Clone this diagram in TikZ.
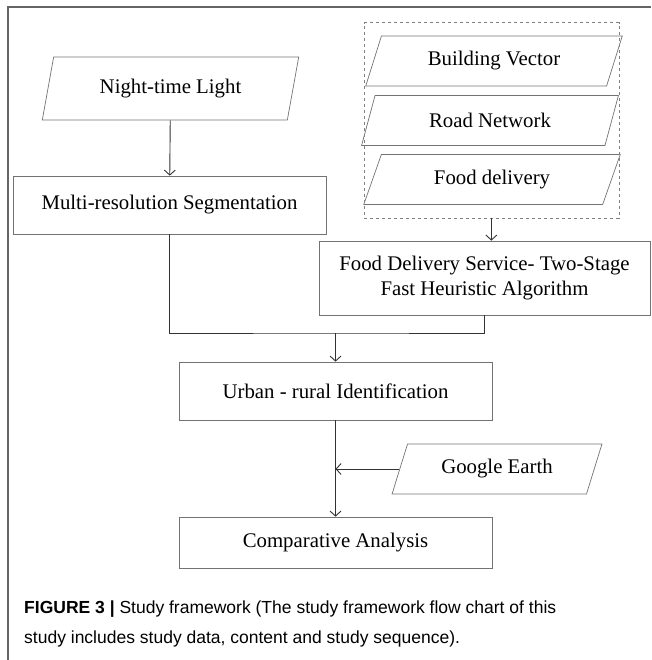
\documentclass[tikz,border=0pt]{standalone}
\usepackage{fontspec}
\setmainfont{Liberation Serif}
\setsansfont{Liberation Sans}
\usetikzlibrary{arrows.meta,shapes.geometric,fit}
\tikzset{
  sfbox/.style={draw=black!55, line width=0.7pt, align=center, inner sep=0pt,
    font=\fontsize{20.8}{25}\selectfont},
  sfdata/.style={sfbox, trapezium, trapezium stretches=true, trapezium left angle=64,
    trapezium right angle=116, minimum width=257pt, minimum height=50pt},
  sfgroup/.style={draw=black!50, dashed, line width=0.6pt, inner xsep=4pt, inner ysep=13pt},
  sfarrow/.style={-{Straight Barb[length=5pt,width=11pt]}, line width=0.9pt, draw=black!80},
  sfline/.style={line width=0.9pt, draw=black!80}
}
\begin{document}
\begin{tikzpicture}[x=1pt,y=-1pt]
  \useasboundingbox (0,0) rectangle (651,660);
  % frame of the figure
  \draw[black!60, line width=1.2pt] (8,660) -- (8,7) -- (651,7);
  % inputs
  \node[sfdata, trapezium left angle=70, trapezium right angle=110, minimum height=63pt] (ntl) at (170.5,88.5) {Night-time Light};
  \node[sfdata] (bv) at (494,61) {Building Vector};
  \node[sfdata] (rn) at (490,120.5) {Road Network};
  \node[sfdata] (fd) at (492,179.5) {Food delivery};
  \node[sfgroup, fit=(bv)(rn)(fd)] (grp) {};
  % processing
  \node[sfbox, minimum width=313pt, minimum height=58pt] (mrs) at (169.5,205) {Multi-resolution Segmentation};
  \node[sfbox, minimum width=331pt, minimum height=74pt] (fds) at (484.5,278) {Food Delivery Service- Two-Stage\\Fast Heuristic Algorithm};
  \node[sfbox, minimum width=313pt, minimum height=58pt] (uri) at (335.5,391) {Urban - rural Identification};
  \node[sfdata, minimum width=210pt, trapezium left angle=63, trapezium right angle=117] (ge) at (497,469) {Google Earth};
  \node[sfbox, minimum width=313pt, minimum height=51pt] (cmp) at (335.5,542.5) {Comparative Analysis};
  \coordinate (join) at (335.5,333);
  \draw[sfarrow] (ntl) -- (mrs);
  \draw[sfarrow] (grp.south) -- (grp.south |- fds.north);
  \draw[sfline] (mrs.south) |- (join) -| (fds.south);
  \draw[sfarrow] (join) -- (uri.north);
  \draw[sfarrow] (uri.south) -- (cmp.north);
  \draw[sfarrow] (ge.left side) -- (uri.south |- ge.left side);
  % caption
  \node[anchor=north west, align=left, inner sep=0pt, font=\sffamily\fontsize{17.5}{30}\selectfont] (cap) at (24,601)
    {\textbf{FIGURE 3 |} Study framework (The study framework flow chart of this\\study includes study data, content and study sequence).};
\end{tikzpicture}
\end{document}
